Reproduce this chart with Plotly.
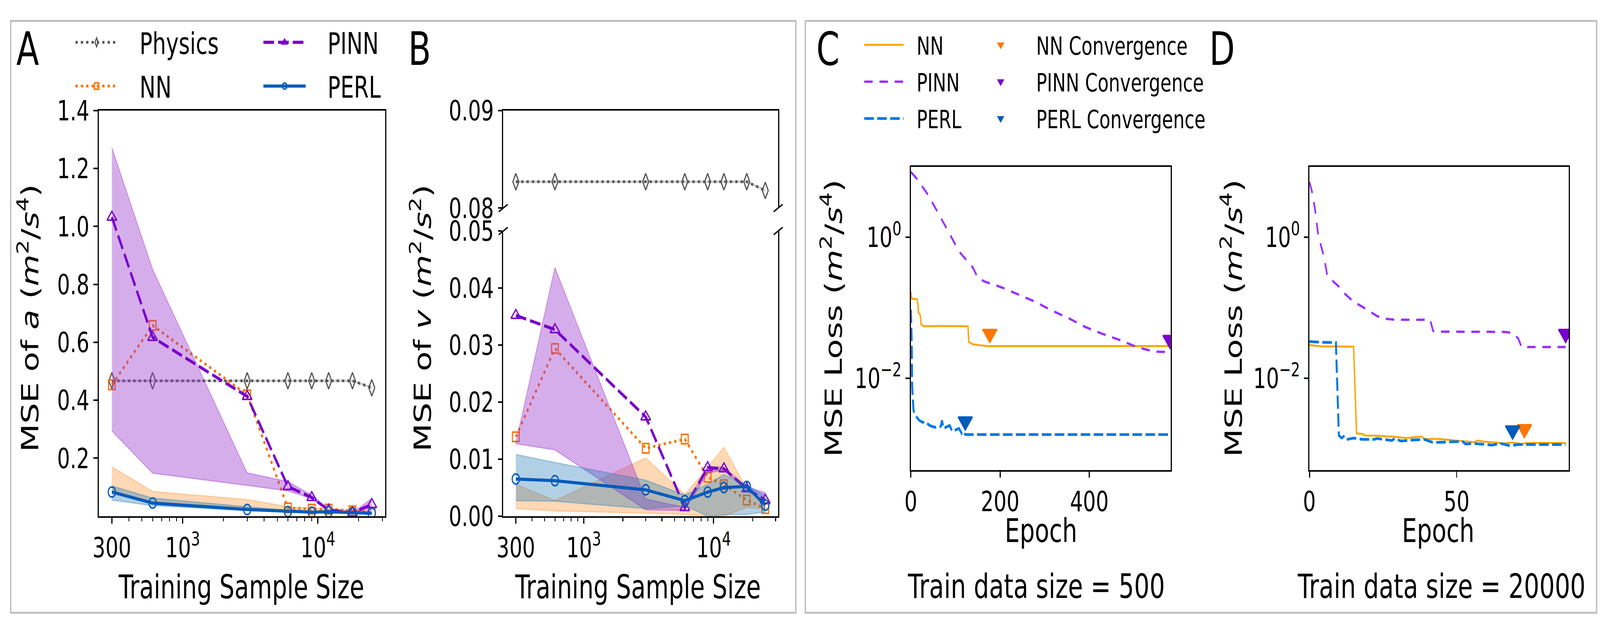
import math
import plotly.graph_objects as go

W, H = 5680, 1630

# ---- panels A and B: error vs training sample size ----
sizes = [300, 600, 3000, 6000, 9000, 12000, 18000, 25000]

# MSE of a
a_physics = [0.467, 0.467, 0.467, 0.467, 0.467, 0.467, 0.467, 0.443]
a_nn = [0.453, 0.658, 0.419, 0.028, 0.024, 0.024, 0.018, 0.013]
a_nn_hi = [0.170, 0.085, 0.057, 0.032, 0.027, 0.026, 0.020, 0.015]
a_nn_lo = [0.083, 0.049, 0.023, 0.016, 0.012, 0.013, 0.010, 0.007]
a_pinn = [1.032, 0.617, 0.413, 0.102, 0.064, 0.021, 0.011, 0.040]
a_pinn_hi = [1.272, 0.852, 0.149, 0.119, 0.072, 0.021, 0.011, 0.060]
a_pinn_lo = [0.294, 0.148, 0.106, 0.087, 0.060, 0.017, 0.0085, 0.010]
a_perl = [0.083, 0.045, 0.0225, 0.016, 0.0136, 0.015, 0.012, 0.0094]
a_perl_hi = [0.104, 0.062, 0.032, 0.020, 0.017, 0.018, 0.015, 0.012]
a_perl_lo = [0.055, 0.036, 0.019, 0.013, 0.011, 0.012, 0.010, 0.008]

# MSE of v
v_physics = [0.0827, 0.0827, 0.0827, 0.0827, 0.0827, 0.0827, 0.0827, 0.0818]
v_nn = [0.0139, 0.0294, 0.0119, 0.0135, 0.0068, 0.0055, 0.0028, 0.0013]
v_nn_hi = [0.0056, 0.0027, 0.0102, 0.0038, 0.0085, 0.0121, 0.0048, 0.0015]
v_nn_lo = [0.0013, 0.0009, 0.0005, 0.0003, 0.0, 0.0, 0.0015, 0.0013]
v_pinn = [0.0352, 0.0327, 0.0174, 0.0015, 0.0085, 0.0083, 0.0048, 0.0028]
v_pinn_hi = [0.0128, 0.0436, 0.0030, 0.0015, 0.0087, 0.0085, 0.0051, 0.0041]
v_pinn_lo = [0.0127, 0.0116, 0.0011, 0.0010, 0.0075, 0.0081, 0.0045, 0.0023]
v_perl = [0.0065, 0.0062, 0.0046, 0.0027, 0.0042, 0.0050, 0.0052, 0.0019]
v_perl_hi = [0.0108, 0.0094, 0.0063, 0.0037, 0.0056, 0.0073, 0.0055, 0.0035]
v_perl_lo = [0.0027, 0.0026, 0.0013, 0.0018, 0.0, 0.0002, 0.0003, 0.0007]

# ---- panel C: training loss, train data size = 500 ----
c_nn_epoch = [0, 2, 14, 16, 17, 21, 23, 29, 70, 126, 128, 130, 139, 170, 582]
c_nn_loss = [0.169, 0.135, 0.132, 0.110, 0.0849, 0.0794, 0.0583, 0.0546, 0.0550,
             0.0542, 0.0546, 0.0327, 0.0302, 0.0286, 0.0286]
c_pinn_epoch = [0, 12, 39, 62, 85, 108, 128, 139, 151, 166, 205, 243, 278, 317,
                356, 390, 429, 468, 506, 545, 582]
c_pinn_loss = [8.49, 6.97, 3.98, 2.20, 1.18, 0.631, 0.454, 0.372, 0.259, 0.235,
               0.193, 0.153, 0.122, 0.0906, 0.0697, 0.0536, 0.0426, 0.0349,
               0.0277, 0.0238, 0.0235]
c_perl_epoch = [0, 2, 3, 6, 10, 19, 27, 31, 42, 54, 67, 70, 73, 87, 93, 104, 108,
                114, 118, 122, 582]
c_perl_loss = [0.0935, 0.0327, 0.00769, 0.00349, 0.00296, 0.00251, 0.00235,
               0.00243, 0.00213, 0.00200, 0.00206, 0.00251, 0.00193, 0.00213,
               0.00175, 0.00187, 0.00193, 0.00164, 0.00175, 0.00158, 0.00158]
c_conv_epoch = {"NN": 177, "PINN": 581, "PERL": 122}
c_conv_loss = {"NN": 0.0426, "PINN": 0.0349, "PERL": 0.00243}

# ---- panel D: training loss, train data size = 20000 ----
d_nn_epoch = [0, 4, 9, 15, 16, 18, 19, 24, 26, 28, 33, 38, 39, 44, 48, 50, 56, 57,
              59, 62, 66, 69, 72, 74, 87]
d_nn_loss = [0.0296, 0.0282, 0.0282, 0.0279, 0.00164, 0.00161, 0.00153, 0.00152,
             0.00148, 0.00148, 0.00141, 0.00148, 0.00137, 0.00137, 0.00132,
             0.00129, 0.00123, 0.00130, 0.00126, 0.00122, 0.00118, 0.00122,
             0.00116, 0.00120, 0.00120]
d_pinn_epoch = [0, 1, 2, 3, 5, 6, 7, 10, 12, 15, 18, 21, 23, 26, 29, 41, 42, 44,
                66, 69, 71, 72, 87]
d_pinn_loss = [6.11, 4.26, 2.35, 1.07, 0.518, 0.296, 0.259, 0.200, 0.158, 0.122,
               0.103, 0.0865, 0.0759, 0.0697, 0.0675, 0.0675, 0.0469, 0.0457,
               0.0454, 0.0440, 0.0361, 0.0277, 0.0277]
d_perl_epoch = [0, 4, 9, 10, 11, 12, 13, 15, 18, 22, 23, 28, 29, 31, 35, 39, 42,
                44, 47, 52, 53, 56, 62, 65, 68, 71, 87]
d_perl_loss = [0.0331, 0.0323, 0.0321, 0.00153, 0.00141, 0.00153, 0.00135,
               0.00141, 0.00135, 0.00135, 0.00139, 0.00130, 0.00139, 0.00128,
               0.00132, 0.00135, 0.00122, 0.00123, 0.00122, 0.00126, 0.00116,
               0.00118, 0.00112, 0.00118, 0.00110, 0.00114, 0.00114]
d_conv_epoch = {"NN": 73, "PINN": 87, "PERL": 69}
d_conv_loss = {"NN": 0.00189, "PINN": 0.0426, "PERL": 0.00181}

x_tickvals = [300, 1000, 10000]
x_ticktext = ["300", "10<sup>3</sup>", "10<sup>4</sup>"]
x_minor = [400, 500, 600, 700, 800, 900, 2000, 3000, 4000, 5000, 6000, 7000,
           8000, 9000, 20000, 30000]


def px(x):
    return x / W


def py(y):
    return 1 - y / H


STYLE = {
    "Physics": dict(color="#555555", dash="8px,11px", symbol="diamond-tall-open", size=30, width=7),
    "NN": dict(color="#ff7000", dash="8px,11px", symbol="square-open", size=24, width=7),
    "PINN": dict(color="#7700cc", dash="38px,14px", symbol="triangle-up-open", size=30, width=8),
    "PERL": dict(color="#005bbb", dash="solid", symbol="circle-open", size=26, width=8),
}
BAND = {"NN": "rgba(255,127,14,0.3)", "PINN": "rgba(153,51,204,0.4)", "PERL": "rgba(31,119,180,0.35)"}
LOSS = {
    "NN": dict(color="#ffa500", dash="solid", width=5),
    "PINN": dict(color="#9b30ff", dash="30px,24px", width=6),
    "PERL": dict(color="#0078e6", dash="34px,12px", width=7),
}
CONV = {"NN": "#ff7700", "PINN": "#7700cc", "PERL": "#005bbb"}
PAD3 = "\u00a0" * 3
PAD2 = "\u00a0" * 2

fig = go.Figure()


def add_band(xa, ya, hi, lo, name):
    fig.add_trace(go.Scatter(x=sizes, y=hi, mode="lines", xaxis=xa, yaxis=ya,
                             line=dict(color=BAND[name], width=3), showlegend=False, hoverinfo="skip"))
    fig.add_trace(go.Scatter(x=sizes, y=lo, mode="lines", xaxis=xa, yaxis=ya, fill="tonexty",
                             fillcolor=BAND[name], line=dict(color=BAND[name], width=3),
                             showlegend=False, hoverinfo="skip"))


def add_mean(xa, ya, y, name, legend=None):
    s = STYLE[name]
    fig.add_trace(go.Scatter(
        x=sizes, y=y, mode="lines+markers", name=PAD3 + name, xaxis=xa, yaxis=ya,
        legendgroup=name,
        line=dict(color=s["color"], width=s["width"], dash=s["dash"]),
        marker=dict(symbol=s["symbol"], size=s["size"], color=s["color"], line=dict(width=4)),
        showlegend=legend is not None, legend=legend or "legend"))


# panel A
fig.add_trace(go.Scatter(x=sizes, y=a_physics, mode="lines", xaxis="x", yaxis="y",
                         line=dict(color="#cccccc", width=6), showlegend=False, hoverinfo="skip"))
add_mean("x", "y", a_physics, "Physics", "legend")
add_band("x", "y", a_nn_hi, a_nn_lo, "NN")
add_mean("x", "y", a_nn, "NN", "legend")
add_band("x", "y", a_pinn_hi, a_pinn_lo, "PINN")
add_mean("x", "y", a_pinn, "PINN", "legend2")
add_band("x", "y", a_perl_hi, a_perl_lo, "PERL")
add_mean("x", "y", a_perl, "PERL", "legend2")

# panel B (broken axis: lower x2/y2, upper x3/y3)
fig.add_trace(go.Scatter(x=sizes, y=v_physics, mode="lines", xaxis="x3", yaxis="y3",
                         line=dict(color="#cccccc", width=6), showlegend=False, hoverinfo="skip"))
add_mean("x3", "y3", v_physics, "Physics")
add_band("x2", "y2", v_nn_hi, v_nn_lo, "NN")
add_mean("x2", "y2", v_nn, "NN")
add_band("x2", "y2", v_pinn_hi, v_pinn_lo, "PINN")
add_mean("x2", "y2", v_pinn, "PINN")
add_band("x2", "y2", v_perl_hi, v_perl_lo, "PERL")
add_mean("x2", "y2", v_perl, "PERL")

# panels C and D
loss_data = [
    ("x4", "y4", {"NN": (c_nn_epoch, c_nn_loss), "PINN": (c_pinn_epoch, c_pinn_loss),
                  "PERL": (c_perl_epoch, c_perl_loss)}, c_conv_epoch, c_conv_loss, True),
    ("x5", "y5", {"NN": (d_nn_epoch, d_nn_loss), "PINN": (d_pinn_epoch, d_pinn_loss),
                  "PERL": (d_perl_epoch, d_perl_loss)}, d_conv_epoch, d_conv_loss, False),
]
for xa, ya, curves, conv_e, conv_l, show in loss_data:
    for name in ["NN", "PINN", "PERL"]:
        ep, ls = curves[name]
        st = LOSS[name]
        fig.add_trace(go.Scatter(x=ep, y=ls, mode="lines", name=PAD2 + name, xaxis=xa, yaxis=ya,
                                 legendgroup="loss " + name,
                                 line=dict(color=st["color"], width=st["width"], dash=st["dash"]),
                                 showlegend=show, legend="legend3"))
    for name in ["NN", "PINN", "PERL"]:
        fig.add_trace(go.Scatter(x=[conv_e[name]], y=[conv_l[name]], mode="markers",
                                 name=PAD3 + name + " Convergence", xaxis=xa, yaxis=ya,
                                 legendgroup="conv " + name,
                                 marker=dict(symbol="triangle-down", size=44, color=CONV[name],
                                             line=dict(width=4, color=CONV[name])),
                                 showlegend=show, legend="legend4"))

axis = dict(showline=True, linecolor="black", linewidth=4, ticks="outside", ticklen=15,
            tickwidth=4, tickcolor="black", showgrid=False, zeroline=False,
            tickfont=dict(size=72, color="black"))
minor = dict(tickmode="array", tickvals=x_minor, ticks="outside", ticklen=9, tickwidth=3,
             tickcolor="black", showgrid=False)
x_range = [math.log10(240), math.log10(31400)]
leg = dict(xanchor="left", yanchor="top", bgcolor="rgba(0,0,0,0)", traceorder="grouped")

fig.update_layout(
    width=W, height=H, autosize=False,
    margin=dict(l=0, r=0, t=0, b=0),
    paper_bgcolor="white", plot_bgcolor="white",
    font=dict(family="DejaVu Sans", color="black"),
    xaxis=dict(axis, domain=[px(328), px(1349)], type="log", range=x_range, mirror=True,
               tickvals=x_tickvals, ticktext=x_ticktext, minor=minor, anchor="y"),
    yaxis=dict(axis, domain=[py(1348), py(254)], range=[0, 1.4], mirror=True,
               tickvals=[0.2, 0.4, 0.6, 0.8, 1.0, 1.2, 1.4], tickformat=".1f", anchor="x"),
    xaxis2=dict(axis, domain=[px(1770), px(2750)], type="log", range=x_range,
                tickvals=x_tickvals, ticktext=x_ticktext, minor=minor, anchor="y2"),
    yaxis2=dict(axis, domain=[py(1348), py(579)], range=[0, 0.05], mirror=True,
                tickvals=[0, 0.01, 0.02, 0.03, 0.04, 0.05], tickformat=".2f", anchor="x2"),
    xaxis3=dict(axis, domain=[px(1770), px(2750)], type="log", range=x_range, side="top",
                ticks="", showticklabels=False, anchor="y3", matches="x2"),
    yaxis3=dict(axis, domain=[py(517), py(254)], range=[0.08, 0.09], mirror=True,
                tickvals=[0.08, 0.09], tickformat=".2f", anchor="x3"),
    xaxis4=dict(axis, domain=[px(3223), px(4149)], range=[0, 582], mirror=True,
                tickvals=[0, 200, 400], anchor="y4"),
    yaxis4=dict(axis, domain=[py(1224), py(406)], type="log", range=[-3.306, 1.0], mirror=True,
                tickvals=[1, 0.01], ticktext=["10<sup>0</sup>", "10<sup>\u22122</sup>"], anchor="x4"),
    xaxis5=dict(axis, domain=[px(4644), px(5569)], range=[0, 88.1], mirror=True,
                tickvals=[0, 50], anchor="y5"),
    yaxis5=dict(axis, domain=[py(1224), py(406)], type="log", range=[-3.306, 1.0], mirror=True,
                tickvals=[1, 0.01], ticktext=["10<sup>0</sup>", "10<sup>\u22122</sup>"], anchor="x5"),
    legend=dict(leg, x=px(240), y=py(11), font=dict(size=76), itemwidth=150, tracegroupgap=10),
    legend2=dict(leg, x=px(910), y=py(11), font=dict(size=76), itemwidth=150, tracegroupgap=10),
    legend3=dict(leg, x=px(3052), y=py(26), font=dict(size=64), itemwidth=140, tracegroupgap=8),
    legend4=dict(leg, x=px(3478), y=py(26), font=dict(size=64), itemwidth=120, tracegroupgap=8),
)

notes = [
    ("A", 75, 88, 0, 118), ("B", 1472, 88, 0, 118), ("C", 2927, 88, 0, 118), ("D", 4333, 88, 0, 118),
    ("Training Sample Size", 836, 1539, 0, 84), ("Training Sample Size", 2250, 1539, 0, 84),
    ("MSE of <i>a</i> (<i>m</i><sup>2</sup>/<i>s</i><sup>4</sup>)", 77, 814, -90, 84),
    ("MSE of <i>v</i> (<i>m</i><sup>2</sup>/<i>s</i><sup>2</sup>)", 1477, 814, -90, 84),
    ("MSE Loss (<i>m</i><sup>2</sup>/<i>s</i><sup>4</sup>)", 2941, 814, -90, 84),
    ("MSE Loss (<i>m</i><sup>2</sup>/<i>s</i><sup>4</sup>)", 4367, 814, -90, 84),
    ("Epoch", 3687, 1388, 0, 84), ("Epoch", 5103, 1388, 0, 84),
    ("Train data size = 500", 3670, 1537, 0, 86), ("Train data size = 20000", 5115, 1537, 0, 86),
]
for text, x, y, angle, size in notes:
    fig.add_annotation(text=text, x=px(x), y=py(y), xref="paper", yref="paper", showarrow=False,
                       textangle=angle, xanchor="center", yanchor="middle",
                       font=dict(size=size, color="black"))

# broken-axis marks in panel B
for bx in (1770, 2750):
    for by in (517, 579):
        fig.add_shape(type="line", xref="paper", yref="paper", x0=px(bx - 16), y0=py(by + 10),
                      x1=px(bx + 16), y1=py(by - 10), line=dict(color="black", width=4))

# panel frames
for x0, x1 in ((14, 2813), (2847, 5668)):
    fig.add_shape(type="rect", xref="paper", yref="paper", x0=px(x0), y0=py(1609),
                  x1=px(x1), y1=py(12), line=dict(color="#c0c0c0", width=5))

# stretch the fixed-size figure onto the browser window
fit = ("var g=document.getElementById('{plot_id}');"
       "var vw=window.innerWidth, vh=window.innerHeight;"
       "document.documentElement.style.overflow='hidden';"
       "document.body.style.margin='0';document.body.style.overflow='hidden';"
       "g.parentElement.style.width=vw+'px';g.parentElement.style.height=vh+'px';"
       "g.parentElement.style.overflow='hidden';"
       "g.style.transformOrigin='0 0';"
       "g.style.transform='scale('+(vw/%d)+','+(vh/%d)+')';" % (W, H))
fig.write_html("out.html", post_script=fit, config={"displayModeBar": False})
